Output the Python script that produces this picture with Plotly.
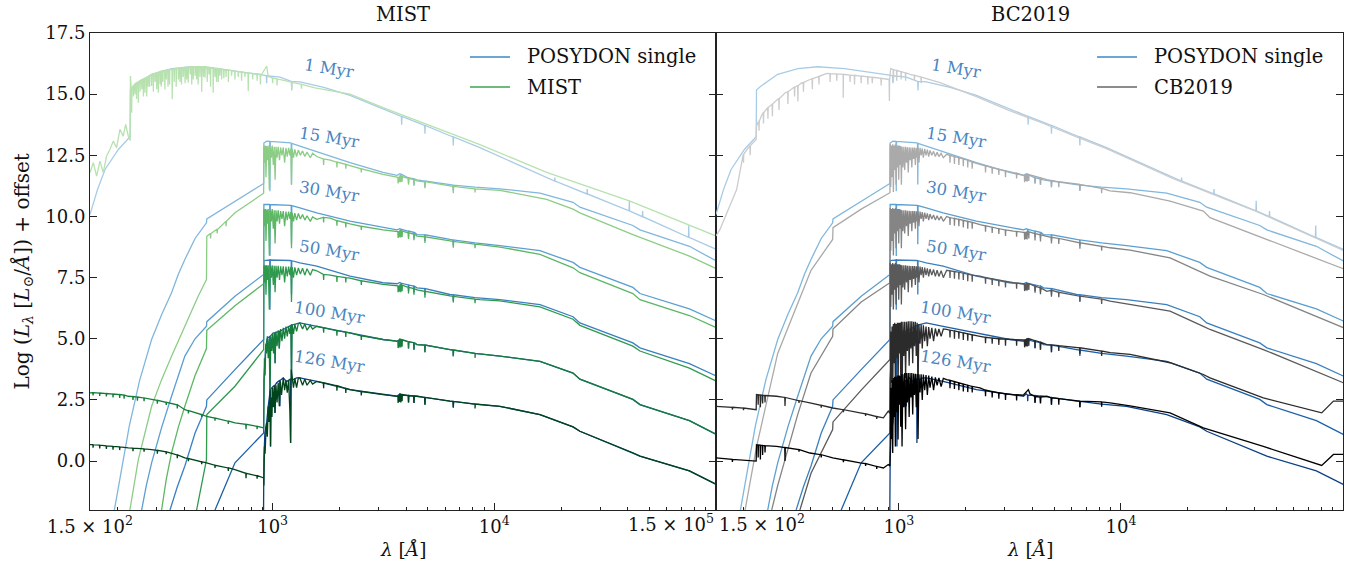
import numpy as np
import plotly.graph_objects as go

# Spectra: [log10(wavelength / Angstrom), log L_lambda + offset]
# Line lists: [log10(wavelength / Angstrom), continuum level, line tip level]

# ---------------- POSYDON single-star populations
posydon_1 = [[2.176,10.08],[2.21,11.1],[2.244,11.92],[2.304,12.74],[2.357,13.26],[2.3585,15.17],[2.379,15.33],[2.454,15.81],[2.545,16.04],[2.635,16.12],[2.755,16.04],[2.875,15.9],[2.965,15.77],[3.033,15.7],[3.123,15.5],[3.231,15.28],[3.349,14.95],[3.498,14.38],[3.651,13.85],[3.800,13.3],[3.935,12.81],[4.236,11.58],[4.612,10.22],[5.003,8.65]]
posydon_1_lines = [[2.973,15.75,15.45],[3.086,15.52,15.15],[3.582,14.09,13.75],[3.687,13.72,13.38],[3.815,13.25,12.9],[4.273,11.45,11.59],[4.419,10.92,11.12],[4.609,10.23,10.64],[4.669,9.99,10.22],[4.877,9.15,9.63]]

posydon_15 = [[2.286,-2.0],[2.353,1.42],[2.40,3.3],[2.454,4.97],[2.50,6.0],[2.544,6.88],[2.575,7.65],[2.604,8.24],[2.65,9.1],[2.7015,9.74],[2.703,9.9],[2.830,10.62],[2.9595,11.35],[2.9605,13.0],[2.973,13.08],[3.081,13.01],[3.123,12.88],[3.199,12.65],[3.349,12.2],[3.498,11.8],[3.561,11.68],[3.574,11.75],[3.651,11.5],[3.800,11.3],[3.913,11.2],[4.025,11.13],[4.206,10.95],[4.355,10.58],[4.386,10.38],[4.625,9.63],[4.657,9.45],[4.880,8.78],[5.003,8.17]]
posydon_15_lines = [[2.988,13.07,11.03],[3.085,12.99,11.31],[3.58,11.72,11.45],[3.613,11.58,11.35],[3.6375,11.54,11.3],[3.687,11.45,11.2],[3.815,11.28,11.05]]

posydon_30 = [[2.409,-2.0],[2.43,-1.0],[2.454,-0.07],[2.50,1.4],[2.544,2.65],[2.575,3.55],[2.604,4.29],[2.65,5.0],[2.7015,5.51],[2.703,5.7],[2.830,6.74],[2.9595,7.63],[2.9605,10.49],[3.081,10.45],[3.123,10.35],[3.199,10.15],[3.349,9.81],[3.498,9.54],[3.561,9.45],[3.574,9.5],[3.651,9.26],[3.800,9.06],[3.913,8.92],[4.025,8.81],[4.206,8.6],[4.355,8.12],[4.386,7.92],[4.625,7.1],[4.657,6.85],[4.880,6.22],[5.003,5.72]]
posydon_30_lines = [[2.988,10.49,8.38],[3.085,10.44,8.86],[3.58,9.47,9.22],[3.613,9.4,9.15],[3.6375,9.35,9.1],[3.687,9.25,9.0],[3.815,9.04,8.8]]

posydon_50 = [[2.537,-2.0],[2.57,-1.05],[2.604,-0.2],[2.65,1.15],[2.7015,2.24],[2.703,2.5],[2.830,3.74],[2.9595,4.97],[2.9605,8.2],[3.081,8.2],[3.123,8.1],[3.199,7.97],[3.349,7.56],[3.498,7.29],[3.561,7.25],[3.574,7.3],[3.651,7.08],[3.800,6.81],[3.913,6.68],[4.025,6.6],[4.206,6.4],[4.355,5.9],[4.386,5.65],[4.625,4.83],[4.657,4.63],[4.880,3.98],[5.003,3.47]]
posydon_50_lines = [[2.988,8.22,6.19],[3.085,8.19,6.81],[3.58,7.27,7.02],[3.613,7.2,6.95],[3.6375,7.15,6.9],[3.687,7.05,6.8],[3.815,6.8,6.55]]

posydon_100 = [[2.740,-2.0],[2.830,-0.07],[2.9595,1.15],[2.9605,3.3],[2.968,4.6],[2.975,5.0],[3.003,5.24],[3.048,5.38],[3.093,5.58],[3.123,5.65],[3.199,5.51],[3.349,5.24],[3.498,4.97],[3.561,4.9],[3.574,4.98],[3.651,4.76],[3.800,4.56],[3.913,4.4],[4.025,4.29],[4.206,4.08],[4.355,3.6],[4.386,3.35],[4.625,2.52],[4.657,2.31],[4.880,1.65],[5.003,1.08]]
posydon_100_lines = [[2.988,5.1,2.92],[3.011,5.25,4.0],[3.03,5.3,4.6],[3.085,5.56,3.33],[3.58,4.95,4.7],[3.613,4.88,4.6],[3.6375,4.84,4.55],[3.687,4.74,4.45],[3.815,4.54,4.3]]

posydon_126 = [[2.959,-2.0],[2.9605,0.06],[2.965,1.16],[2.973,1.57],[2.98,2.24],[2.988,2.92],[3.003,3.06],[3.018,3.2],[3.048,3.4],[3.063,3.25],[3.093,3.33],[3.108,3.40],[3.123,3.40],[3.199,3.26],[3.349,2.92],[3.498,2.72],[3.561,2.65],[3.574,2.75],[3.651,2.65],[3.800,2.45],[3.913,2.33],[4.025,2.24],[4.206,1.9],[4.355,1.4],[4.386,1.22],[4.625,0.34],[4.657,0.2],[4.880,-0.4],[5.003,-0.96]]
posydon_126_lines = [[2.991,2.95,0.6],[3.010,3.1,1.97],[3.033,3.3,2.24],[3.081,3.35,0.74],[3.58,2.7,2.45],[3.613,2.68,2.4],[3.6375,2.66,2.38],[3.687,2.6,2.3],[3.815,2.44,2.2]]

# ---------------- MIST
mist_1 = [[2.176,11.79],[2.191,12.2],[2.206,11.65],[2.221,12.26],[2.236,11.79],[2.251,12.47],[2.266,12.74],[2.281,13.08],[2.296,12.81],[2.311,13.56],[2.326,13.28],[2.337,13.76],[2.349,13.28],[2.357,13.1],[2.3585,15.74],[2.362,15.2],
          [2.40,15.55],[2.45,15.8],[2.50,15.95],[2.55,16.02],[2.60,16.08],[2.65,16.12],[2.70,16.12],[2.75,16.05],[2.80,15.98],[2.85,15.92],[2.90,15.86],[2.95,15.8],[2.973,16.15],[2.980,15.72],[3.055,15.55],[3.093,15.47],[3.191,15.26],[3.349,15.0],[3.498,14.45],[3.935,12.94],[4.236,11.8],[4.612,10.63],[5.003,9.19]]
mist_1_lines = [[2.364,15.25,14.24],[2.372,15.35,14.9],[2.379,15.42,15.0],[2.386,15.47,14.8],[2.394,15.5,14.65],[2.402,15.56,15.1],[2.41,15.6,15.2],[2.417,15.63,14.9],[2.424,15.66,15.06],[2.432,15.7,14.9],[2.438,15.72,15.3],[2.445,15.76,15.3],[2.454,15.8,15.33],[2.462,15.83,15.1],[2.47,15.85,15.5],[2.477,15.87,15.2],[2.484,15.89,15.06],[2.492,15.92,15.4],[2.498,15.94,15.3],[2.505,15.95,15.5],[2.514,15.97,15.19],[2.52,15.98,15.6],[2.528,15.99,15.3],[2.535,16.0,15.4],[2.547,16.02,14.79],[2.556,16.03,15.5],[2.565,16.04,15.3],[2.575,16.05,15.6],[2.582,16.06,15.5],[2.589,16.07,15.4],[2.597,16.08,15.7],[2.605,16.09,15.45],[2.612,16.09,15.6],[2.619,16.1,15.47],[2.628,16.11,15.8],[2.635,16.12,15.4],[2.642,16.12,15.6],[2.65,16.12,15.75],[2.657,16.12,15.6],[2.664,16.12,15.4],[2.672,16.12,15.7],[2.68,16.12,15.1],[2.688,16.12,15.7],[2.695,16.12,15.67],[2.705,16.11,15.5],[2.713,16.1,15.8],[2.72,16.09,15.3],[2.732,16.08,15.06],[2.74,16.06,15.7],[2.747,16.05,15.5],[2.755,16.04,15.5],[2.762,16.03,15.75],[2.770,16.02,15.6],[2.78,16.0,15.65],[2.79,15.99,15.7],[2.80,15.98,15.5],[2.815,15.96,15.75],[2.83,15.94,15.6],[2.845,15.92,15.7],[2.86,15.9,15.55],[2.875,15.88,15.7],[2.890,15.87,15.12],[2.91,15.85,15.6],[2.93,15.83,15.55],[2.945,15.81,15.4],[3.0,15.66,15.45],[3.02,15.62,15.35],[3.086,15.49,15.2],[3.13,15.4,15.22]]

mist_15 = [[2.356,-2.0],[2.394,0.06],[2.454,2.24],[2.50,3.35],[2.544,4.29],[2.604,5.51],[2.664,6.74],[2.7015,7.42],[2.703,9.19],[2.755,9.5],[2.830,10.15],[2.9595,10.95],
           [2.9605,12.9],[2.964,12.2],[2.967,12.9],[2.970,11.6],[2.973,12.88],[2.977,12.3],[2.980,12.9],[2.985,11.1],[2.990,12.85],[2.994,12.4],[2.998,12.9],[3.003,12.1],[3.007,12.85],[3.011,11.5],[3.015,12.85],[3.020,12.4],[3.025,12.85],[3.031,12.3],[3.036,12.82],[3.042,12.5],[3.048,12.82],[3.054,12.2],[3.060,12.8],[3.066,12.45],[3.072,12.8],[3.078,12.5],[3.082,12.78],[3.085,11.3],[3.088,12.76],[3.094,12.4],[3.100,12.74],[3.108,12.45],[3.116,12.72],[3.125,12.5],[3.135,12.68],[3.145,12.45],[3.155,12.63],[3.17,12.4],[3.18,12.58],[3.199,12.45],
           [3.26,12.3],[3.349,12.08],[3.498,11.72],[3.561,11.6],[3.574,11.68],[3.651,11.45],[3.800,11.25],[3.935,11.12],[4.025,11.07],[4.236,10.7],[4.355,10.3],[4.386,10.15],[4.625,9.26],[4.880,8.38],[5.003,7.86]]
mist_15_lines = [[2.72,9.3,9.1],[2.75,9.48,9.3],[2.79,9.8,9.6],[3.23,12.35,12.1],[3.29,12.22,12.0],[3.33,12.13,11.95],[3.40,11.95,11.8],[3.566,11.6,11.35],[3.571,11.62,11.4],[3.578,11.65,11.4],[3.584,11.63,11.42],[3.613,11.56,11.3],[3.6375,11.51,11.25],[3.687,11.42,11.15],[3.815,11.23,10.95],[3.913,11.13,10.98]]

mist_30 = [[2.499,-2.0],[2.52,-0.75],[2.544,0.34],[2.575,1.4],[2.604,2.24],[2.65,3.5],[2.7015,4.6],[2.703,5.35],[2.830,6.35],[2.9595,7.25],
           [2.9605,10.3],[2.964,9.6],[2.967,10.3],[2.970,9.0],[2.973,10.28],[2.977,9.7],[2.980,10.3],[2.985,8.4],[2.990,10.25],[2.994,9.8],[2.998,10.3],[3.003,9.5],[3.007,10.25],[3.011,8.9],[3.015,10.25],[3.020,9.8],[3.025,10.25],[3.031,9.7],[3.036,10.22],[3.042,9.9],[3.048,10.22],[3.054,9.6],[3.060,10.2],[3.066,9.85],[3.072,10.2],[3.078,9.9],[3.082,10.18],[3.085,8.7],[3.088,10.16],[3.094,9.8],[3.100,10.14],[3.108,9.85],[3.116,10.12],[3.125,9.9],[3.135,10.08],[3.145,9.85],[3.155,10.03],[3.17,9.8],[3.18,9.98],[3.199,9.88],
           [3.26,9.93],[3.349,9.7],[3.498,9.45],[3.561,9.38],[3.574,9.42],[3.651,9.2],[3.800,9.0],[3.935,8.85],[4.025,8.75],[4.206,8.45],[4.355,7.9],[4.386,7.7],[4.625,6.85],[4.657,6.6],[4.880,5.95],[5.003,5.45]]
mist_30_lines = [[3.23,9.96,9.75],[3.29,9.83,9.62],[3.33,9.74,9.55],[3.40,9.6,9.45],[3.566,9.38,9.12],[3.571,9.4,9.15],[3.578,9.41,9.14],[3.584,9.4,9.16],[3.613,9.33,9.08],[3.6375,9.28,9.03],[3.687,9.17,8.92],[3.815,8.98,8.72],[3.913,8.87,8.7]]

mist_50 = [[2.657,-2.0],[2.7015,0.06],[2.703,1.9],[2.830,3.06],[2.9595,4.56],
           [2.9605,8.0],[2.964,7.3],[2.967,8.0],[2.970,6.8],[2.973,8.0],[2.977,7.4],[2.980,8.0],[2.985,6.2],[2.990,7.98],[2.994,7.5],[2.998,8.0],[3.003,7.2],[3.007,7.98],[3.011,6.9],[3.015,7.98],[3.020,7.5],[3.025,7.98],[3.031,7.4],[3.036,7.96],[3.042,7.6],[3.048,7.96],[3.054,7.3],[3.060,7.95],[3.066,7.55],[3.072,7.95],[3.078,7.6],[3.082,7.94],[3.085,6.5],[3.088,7.93],[3.094,7.5],[3.100,7.92],[3.108,7.6],[3.116,7.9],[3.125,7.65],[3.135,7.88],[3.145,7.6],[3.155,7.86],[3.17,7.6],[3.18,7.83],[3.199,7.78],
           [3.26,7.6],[3.349,7.48],[3.498,7.22],[3.561,7.16],[3.574,7.22],[3.651,7.0],[3.800,6.75],[3.935,6.6],[4.025,6.55],[4.206,6.3],[4.355,5.8],[4.386,5.55],[4.625,4.7],[4.657,4.5],[4.880,3.8],[5.003,3.26]]
mist_50_lines = [[3.23,7.63,7.4],[3.29,7.55,7.32],[3.33,7.5,7.3],[3.40,7.37,7.2],[3.566,7.16,6.9],[3.571,7.18,6.92],[3.578,7.2,6.9],[3.584,7.19,6.94],[3.613,7.1,6.85],[3.6375,7.05,6.8],[3.687,6.94,6.68],[3.815,6.73,6.48],[3.913,6.62,6.45]]

mist_100 = [[2.176,2.79],[2.349,2.65],[2.454,2.52],[2.604,2.1],[2.702,1.83],[2.830,1.56],[2.9595,1.36],
            [2.9605,3.0],[2.963,4.2],[2.966,3.5],[2.969,4.8],[2.972,4.4],[2.976,5.1],[2.980,4.2],[2.984,5.0],[2.988,2.9],[2.992,5.1],[2.996,4.5],[3.000,5.2],[3.004,4.4],[3.008,5.25],[3.011,4.0],[3.015,5.3],[3.020,4.7],[3.025,5.35],[3.030,4.6],[3.036,5.4],[3.042,4.9],[3.048,5.45],[3.054,5.0],[3.060,5.5],[3.066,5.1],[3.072,5.5],[3.078,5.2],[3.082,5.55],[3.085,3.33],[3.088,5.58],[3.094,5.2],[3.100,5.6],[3.108,5.3],[3.116,5.62],[3.123,5.65],[3.135,5.4],[3.145,5.6],[3.155,5.35],[3.17,5.55],[3.18,5.4],[3.199,5.51],
            [3.349,5.24],[3.498,4.97],[3.561,4.9],[3.574,4.98],[3.651,4.76],[3.800,4.56],[3.913,4.4],[4.025,4.29],[4.206,4.08],[4.355,3.6],[4.386,3.35],[4.625,2.52],[4.657,2.31],[4.880,1.65],[5.003,1.08]]
mist_100_lines = [[2.19,2.8,2.68],[2.22,2.78,2.66],[2.25,2.76,2.64],[2.28,2.74,2.6],[2.31,2.72,2.58],[2.33,2.7,2.55],[2.37,2.64,2.5],[2.39,2.62,2.47],[2.42,2.58,2.45],[2.48,2.48,2.35],[2.52,2.4,2.3],[2.57,2.3,2.15],[2.62,2.06,1.95],[2.68,1.9,1.8],[2.74,1.76,1.65],[2.80,1.63,1.52],[2.88,1.5,1.3],[2.93,1.42,1.3],
                   [3.23,5.45,5.25],[3.29,5.33,5.12],[3.33,5.27,5.07],[3.40,5.12,4.95],[3.566,4.9,4.62],[3.571,4.95,4.65],[3.578,4.97,4.64],[3.584,4.96,4.68],[3.613,4.88,4.6],[3.6375,4.84,4.55],[3.687,4.74,4.45],[3.815,4.54,4.28],[3.913,4.4,4.22]]

mist_126 = [[2.176,0.67],[2.349,0.54],[2.454,0.47],[2.604,0.13],[2.702,-0.07],[2.830,-0.35],[2.9595,-0.69],
            [2.9605,-1.0],[2.963,0.6],[2.966,0.3],[2.970,1.3],[2.973,1.57],[2.976,1.0],[2.980,2.24],[2.984,1.6],[2.988,2.92],[2.990,0.6],[2.993,2.6],[2.997,1.8],[3.000,3.0],[3.004,2.2],[3.008,3.06],[3.011,1.97],[3.015,3.1],[3.020,2.4],[3.025,3.2],[3.030,2.24],[3.035,3.25],[3.040,2.7],[3.048,3.4],[3.054,2.9],[3.060,3.3],[3.066,2.8],[3.072,3.3],[3.078,2.0],[3.081,0.74],[3.084,3.74],[3.088,3.3],[3.094,3.0],[3.100,3.38],[3.108,3.0],[3.116,3.4],[3.123,3.4],[3.135,3.1],[3.145,3.35],[3.155,3.1],[3.17,3.3],[3.18,3.15],[3.199,3.26],
            [3.349,2.92],[3.498,2.72],[3.561,2.65],[3.574,2.75],[3.651,2.65],[3.800,2.45],[3.913,2.33],[4.025,2.24],[4.206,1.9],[4.355,1.4],[4.386,1.22],[4.625,0.34],[4.657,0.2],[4.880,-0.4],[5.003,-0.96]]
mist_126_lines = [[2.19,0.67,0.55],[2.22,0.65,0.52],[2.25,0.62,0.5],[2.28,0.6,0.46],[2.31,0.58,0.45],[2.37,0.53,0.4],[2.42,0.5,0.38],[2.48,0.44,0.3],[2.52,0.38,0.28],[2.57,0.25,0.12],[2.62,0.1,0.0],[2.68,-0.03,-0.13],[2.74,-0.17,-0.28],[2.80,-0.28,-0.4],[2.88,-0.5,-0.7],[2.93,-0.6,-0.72],
                   [3.23,3.2,2.98],[3.29,3.08,2.88],[3.33,2.97,2.78],[3.40,2.84,2.68],[3.566,2.65,2.38],[3.571,2.7,2.42],[3.578,2.73,2.4],[3.584,2.72,2.45],[3.613,2.68,2.4],[3.6375,2.66,2.38],[3.687,2.6,2.3],[3.815,2.44,2.18],[3.913,2.33,2.15]]

# ---------------- CB2019
cb_1 = [[2.176,9.2],[2.194,9.47],[2.269,11.1],[2.357,13.15],[2.3585,13.69],[2.38,14.1],[2.40,14.35],[2.424,14.55],[2.449,14.75],[2.487,15.05],[2.524,15.26],[2.56,15.45],[2.599,15.6],[2.637,15.72],[2.675,15.85],[2.749,15.81],[2.825,15.74],[2.9,15.67],[2.955,15.6],[2.963,16.05],[2.972,16.0],[3.05,15.81],[3.185,15.47],[3.349,14.9],[3.498,14.33],[3.651,13.8],[3.800,13.25],[3.935,12.77],[4.236,11.55],[4.612,10.2],[5.003,8.6]]
cb_1_lines = [[2.30,12.55,12.2],[2.33,12.9,12.5],[2.37,13.9,13.5],[2.39,14.25,13.8],[2.41,14.45,14.0],[2.43,14.6,14.1],[2.46,14.82,14.35],[2.50,15.1,14.6],[2.53,15.28,14.9],[2.545,15.35,14.7],[2.57,15.48,15.1],[2.61,15.63,15.2],[2.64,15.73,15.4],[2.69,15.84,15.5],[2.72,15.83,15.55],[2.749,15.81,14.85],[2.78,15.78,15.5],[2.80,15.77,15.4],[2.83,15.74,15.45],[2.86,15.71,15.4],[2.88,15.69,15.45],[2.92,15.65,15.35],[2.957,15.6,14.72],[2.975,16.0,15.5],[2.99,15.97,15.55],[3.01,15.92,15.6],[3.03,15.87,15.55],[3.07,15.77,15.55],[3.10,15.7,15.45]]

cb_15 = [[2.307,-2.0],[2.359,0.6],[2.454,4.4],[2.544,6.45],[2.604,7.8],[2.7015,9.06],[2.703,9.54],[2.830,10.3],[2.9595,10.97],
         [2.9605,12.95],[2.963,11.2],[2.966,12.9],[2.969,11.6],[2.972,12.95],[2.975,11.0],[2.978,12.9],[2.981,11.9],[2.984,12.95],[2.987,11.3],[2.990,12.9],[2.993,12.0],[2.996,12.9],[2.999,11.5],[3.002,12.9],[3.005,12.1],[3.008,12.88],[3.011,11.3],[3.014,12.85],[3.018,12.0],[3.022,12.85],[3.026,11.9],[3.030,12.85],[3.034,12.2],[3.038,12.83],[3.042,11.8],[3.046,12.83],[3.050,12.3],[3.054,12.82],[3.058,12.0],[3.062,12.82],[3.066,12.35],[3.070,12.82],[3.074,12.1],[3.078,12.81],[3.082,12.4],[3.086,12.81],[3.090,12.2],[3.095,12.81],[3.100,12.5],[3.105,12.78],[3.110,12.4],[3.116,12.76],[3.122,12.5],[3.128,12.73],[3.134,12.45],[3.140,12.7],[3.148,12.5],[3.156,12.66],[3.164,12.45],[3.172,12.62],[3.18,12.45],[3.19,12.58],[3.2,12.4],[3.215,12.54],
         [3.365,12.13],[3.515,11.79],[3.561,11.68],[3.583,11.72],[3.666,11.51],[3.816,11.31],[3.951,11.05],[4.041,10.97],[4.221,10.63],[4.371,10.22],[4.401,9.95],[4.641,9.11],[5.002,7.86]]
cb_15_lines = [[3.23,12.5,12.2],[3.25,12.45,12.15],[3.27,12.4,12.1],[3.29,12.35,12.05],[3.31,12.3,12.0],[3.33,12.22,11.95],[3.39,12.07,11.8],[3.42,12.0,11.75],[3.45,11.93,11.7],[3.48,11.87,11.6],[3.53,11.77,11.55],[3.566,11.68,11.4],[3.571,11.7,11.45],[3.577,11.72,11.42],[3.585,11.71,11.45],[3.613,11.64,11.35],[3.6375,11.58,11.3],[3.687,11.47,11.2],[3.72,11.42,11.2],[3.815,11.31,11.05],[3.913,11.15,10.95]]

cb_30 = [[2.427,-2.0],[2.454,-1.0],[2.544,1.9],[2.604,3.6],[2.7015,5.1],[2.703,5.4],[2.830,6.5],[2.9595,7.29],
         [2.9605,10.35],[2.963,8.6],[2.966,10.3],[2.969,9.0],[2.972,10.35],[2.975,8.4],[2.978,10.3],[2.981,9.3],[2.984,10.35],[2.987,8.7],[2.990,10.3],[2.993,9.4],[2.996,10.3],[2.999,8.9],[3.002,10.3],[3.005,9.5],[3.008,10.28],[3.011,8.7],[3.014,10.25],[3.018,9.4],[3.022,10.25],[3.026,9.3],[3.030,10.25],[3.034,9.6],[3.038,10.23],[3.042,9.2],[3.046,10.23],[3.050,9.7],[3.054,10.22],[3.058,9.4],[3.062,10.22],[3.066,9.75],[3.070,10.22],[3.074,9.5],[3.078,10.21],[3.082,9.8],[3.086,10.21],[3.090,9.6],[3.095,10.2],[3.100,9.9],[3.105,10.18],[3.110,9.8],[3.116,10.16],[3.122,9.9],[3.128,10.13],[3.134,9.85],[3.140,10.1],[3.148,9.9],[3.156,10.06],[3.164,9.85],[3.172,10.03],[3.18,9.85],[3.19,10.0],[3.2,9.8],[3.215,10.0],
         [3.365,9.67],[3.515,9.4],[3.561,9.35],[3.583,9.38],[3.666,9.19],[3.816,8.92],[3.951,8.72],[4.041,8.62],[4.221,8.31],[4.371,7.7],[4.401,7.56],[4.641,6.81],[5.002,5.45]]
cb_30_lines = [[3.23,9.95,9.65],[3.25,9.92,9.62],[3.27,9.88,9.6],[3.29,9.84,9.55],[3.31,9.8,9.5],[3.33,9.76,9.5],[3.39,9.62,9.38],[3.42,9.56,9.33],[3.45,9.5,9.28],[3.48,9.45,9.2],[3.53,9.39,9.17],[3.566,9.35,9.05],[3.571,9.36,9.08],[3.577,9.37,9.06],[3.585,9.37,9.1],[3.613,9.3,9.02],[3.6375,9.25,8.98],[3.687,9.15,8.9],[3.72,9.1,8.88],[3.815,8.92,8.68],[3.913,8.78,8.6]]

cb_50 = [[2.554,-2.0],[2.604,-0.5],[2.7015,1.29],[2.703,1.6],[2.830,2.9],[2.9595,4.15],
         [2.9605,8.1],[2.963,6.3],[2.966,8.05],[2.969,6.8],[2.972,8.1],[2.975,6.2],[2.978,8.05],[2.981,7.0],[2.984,8.1],[2.987,6.4],[2.990,8.05],[2.993,7.1],[2.996,8.05],[2.999,6.6],[3.002,8.05],[3.005,7.2],[3.008,8.03],[3.011,6.4],[3.014,8.0],[3.018,7.1],[3.022,8.0],[3.026,7.0],[3.030,8.0],[3.034,7.3],[3.038,7.98],[3.042,6.9],[3.046,7.98],[3.050,7.4],[3.054,7.97],[3.058,7.1],[3.062,7.97],[3.066,7.45],[3.070,7.97],[3.074,7.2],[3.078,7.96],[3.082,7.5],[3.086,7.96],[3.090,7.3],[3.095,7.95],[3.100,7.6],[3.105,7.93],[3.110,7.5],[3.116,7.91],[3.122,7.6],[3.128,7.88],[3.134,7.55],[3.140,7.85],[3.148,7.6],[3.156,7.83],[3.164,7.55],[3.172,7.8],[3.18,7.55],[3.19,7.78],[3.2,7.5],[3.215,7.8],
         [3.365,7.56],[3.515,7.29],[3.561,7.24],[3.583,7.25],[3.666,6.94],[3.816,6.74],[3.951,6.54],[4.221,6.13],[4.371,5.51],[4.401,5.38],[4.641,4.56],[5.002,3.2]]
cb_50_lines = [[3.23,7.78,7.48],[3.25,7.75,7.45],[3.27,7.72,7.42],[3.29,7.68,7.4],[3.31,7.64,7.35],[3.33,7.6,7.33],[3.39,7.5,7.25],[3.42,7.45,7.2],[3.45,7.4,7.15],[3.48,7.35,7.1],[3.53,7.28,7.05],[3.566,7.24,6.95],[3.571,7.25,6.98],[3.577,7.26,6.96],[3.585,7.25,7.0],[3.613,7.15,6.88],[3.6375,7.08,6.82],[3.687,6.98,6.72],[3.72,6.9,6.7],[3.815,6.74,6.5],[3.913,6.62,6.42]]

cb_100 = [[2.176,2.24],[2.357,2.1],[2.3585,2.72],[2.449,2.65],[2.599,2.38],[2.702,2.17],[2.825,1.97],[2.93,1.77],[2.952,2.04],[2.9595,1.95],
          [2.9605,4.0],[2.963,5.3],[2.966,3.2],[2.969,5.5],[2.972,2.6],[2.975,5.6],[2.978,4.0],[2.981,5.65],[2.984,3.0],[2.987,5.6],[2.990,4.2],[2.993,5.65],[2.996,2.8],[2.999,5.65],[3.002,4.4],[3.005,5.65],[3.008,3.5],[3.011,5.7],[3.014,2.6],[3.018,5.7],[3.022,4.3],[3.026,5.7],[3.030,3.4],[3.034,5.7],[3.038,4.5],[3.042,5.72],[3.046,3.9],[3.050,5.72],[3.054,4.6],[3.058,5.72],[3.062,4.0],[3.066,5.7],[3.070,4.7],[3.074,5.7],[3.078,4.3],[3.082,5.65],[3.086,3.0],[3.090,5.6],[3.095,4.8],[3.100,5.58],[3.105,4.6],[3.110,5.55],[3.116,4.9],[3.122,5.5],[3.128,4.7],[3.134,5.48],[3.140,5.0],[3.148,5.45],[3.156,4.9],[3.164,5.42],[3.172,5.1],[3.18,5.4],[3.19,5.1],[3.2,5.4],[3.215,5.38],
          [3.365,5.1],[3.515,4.97],[3.561,4.95],[3.583,5.0],[3.666,4.76],[3.816,4.63],[3.951,4.43],[4.041,4.36],[4.221,4.02],[4.371,3.54],[4.401,3.4],[4.641,2.58],[4.904,1.97],[4.957,2.45],[5.002,2.45]]
cb_100_lines = [[2.25,2.2,2.1],[2.30,2.17,2.08],[2.366,2.71,2.3],[2.376,2.7,2.2],[2.386,2.69,2.35],[2.397,2.68,2.4],[2.487,2.6,2.25],[2.55,2.47,2.38],[2.65,2.28,2.18],[2.75,2.1,2.0],[2.85,1.93,1.85],[2.90,1.82,1.72],
                [3.23,5.35,5.05],[3.25,5.32,5.0],[3.27,5.28,5.0],[3.29,5.24,4.95],[3.31,5.2,4.92],[3.33,5.16,4.9],[3.39,5.06,4.82],[3.42,5.03,4.8],[3.45,5.0,4.75],[3.48,4.99,4.72],[3.53,4.96,4.72],[3.566,4.95,4.65],[3.571,4.97,4.7],[3.577,4.99,4.68],[3.585,5.0,4.72],[3.613,4.92,4.62],[3.6375,4.86,4.55],[3.687,4.75,4.45],[3.72,4.72,4.5],[3.815,4.63,4.38],[3.913,4.5,4.3]]

cb_126 = [[2.176,0.13],[2.357,0.0],[2.3585,0.67],[2.449,0.6],[2.599,0.33],[2.702,0.13],[2.825,-0.07],[2.93,-0.28],[2.952,-0.14],[2.9595,-0.2],
          [2.9605,1.5],[2.963,3.0],[2.966,0.9],[2.969,3.3],[2.972,0.33],[2.975,3.4],[2.978,1.8],[2.981,3.45],[2.984,0.6],[2.987,3.45],[2.990,2.0],[2.993,3.5],[2.996,0.88],[2.999,3.5],[3.002,2.3],[3.005,3.5],[3.008,1.4],[3.011,3.55],[3.014,0.6],[3.018,3.55],[3.022,2.2],[3.026,3.6],[3.030,1.3],[3.034,3.6],[3.038,2.4],[3.042,3.6],[3.046,1.8],[3.050,3.6],[3.054,2.6],[3.058,3.6],[3.062,1.9],[3.066,3.58],[3.070,2.7],[3.074,3.57],[3.078,2.2],[3.082,3.56],[3.086,0.9],[3.090,3.55],[3.095,2.8],[3.100,3.55],[3.105,2.5],[3.110,3.54],[3.116,2.9],[3.122,3.52],[3.128,2.7],[3.134,3.5],[3.140,3.0],[3.148,3.45],[3.156,2.9],[3.164,3.42],[3.172,3.1],[3.18,3.4],[3.19,3.05],[3.2,3.38],[3.215,3.33],
          [3.365,2.99],[3.515,2.72],[3.561,2.7],[3.583,2.92],[3.59,2.75],[3.666,2.65],[3.816,2.45],[3.951,2.38],[4.041,2.26],[4.221,1.97],[4.371,1.36],[4.641,0.6],[4.904,-0.18],[4.957,0.27],[5.002,0.27]]
cb_126_lines = [[2.25,0.07,-0.03],[2.366,0.66,0.15],[2.376,0.65,0.06],[2.386,0.64,0.25],[2.397,0.63,0.35],[2.487,0.55,0.0],[2.55,0.47,0.38],[2.65,0.26,0.15],[2.75,0.05,-0.05],[2.85,-0.1,-0.2],[2.90,-0.22,-0.32],
                [3.23,3.3,2.98],[3.25,3.25,2.95],[3.27,3.2,2.9],[3.29,3.15,2.85],[3.31,3.1,2.82],[3.33,3.05,2.8],[3.39,2.9,2.65],[3.42,2.84,2.6],[3.45,2.79,2.55],[3.48,2.75,2.5],[3.53,2.71,2.48],[3.613,2.64,2.38],[3.6375,2.62,2.35],[3.687,2.58,2.3],[3.72,2.55,2.3],[3.815,2.45,2.2],[3.913,2.42,2.22]]

AGE_LABELS = ["1 Myr", "15 Myr", "30 Myr", "50 Myr", "100 Myr", "126 Myr"]
AGE_LABEL_Y = [16.05, 13.22, 11.04, 8.6, 6.07, 4.07]
AGE_LABEL_WAVE = 1800

POSYDON = [(posydon_1, posydon_1_lines), (posydon_15, posydon_15_lines), (posydon_30, posydon_30_lines),
           (posydon_50, posydon_50_lines), (posydon_100, posydon_100_lines), (posydon_126, posydon_126_lines)]
MIST = [(mist_1, mist_1_lines), (mist_15, mist_15_lines), (mist_30, mist_30_lines),
        (mist_50, mist_50_lines), (mist_100, mist_100_lines), (mist_126, mist_126_lines)]
CB2019 = [(cb_1, cb_1_lines), (cb_15, cb_15_lines), (cb_30, cb_30_lines),
          (cb_50, cb_50_lines), (cb_100, cb_100_lines), (cb_126, cb_126_lines)]

BLUES = ["#a9cce6", "#80b7dc", "#5b9fd0", "#3a80c1", "#1c5fa8", "#0c3e84"]
GREENS = ["#b7e2b0", "#8ccd86", "#5db765", "#2f9a4e", "#167c3a", "#00441b"]
GRAYS = ["#cccccc", "#aaaaaa", "#858585", "#5a5a5a", "#2b2b2b", "#000000"]

FONT = "DejaVu Serif"
W, H = 1364, 562
PX_L, PX_M, PX_R = 90, 716, 1343
PX_T, PX_B = 33, 510


def spectrum(knots, lines, half_width=0.0012):
    """Merge continuum knots with narrow line profiles, sorted in wavelength."""
    pts = [tuple(p) for p in knots]
    for lw, base, tip in lines:
        pts += [(lw - half_width, base), (lw, tip), (lw + half_width, base)]
    pts.sort(key=lambda p: p[0])
    lw, y = zip(*pts)
    return 10 ** np.asarray(lw), np.asarray(y)


fig = go.Figure()


def add_set(models, colors, xa, ya):
    for (knots, lines), col in zip(models, colors):
        x, y = spectrum(knots, lines)
        fig.add_trace(go.Scatter(x=x, y=y, mode="lines", xaxis=xa, yaxis=ya,
                                 line=dict(color=col, width=1.3),
                                 showlegend=False, hoverinfo="skip"))


add_set(POSYDON, BLUES, "x", "y")
add_set(MIST, GREENS, "x", "y")
add_set(POSYDON, BLUES, "x2", "y2")
add_set(CB2019, GRAYS, "x2", "y2")

minor_vals = [m * 10 ** e for e in (2, 3, 4) for m in range(2, 10)]
xr = [np.log10(150), 5.0]

axis_common = dict(type="log", range=xr, showline=True, mirror=True, linecolor="#222", linewidth=1,
                   ticks="inside", ticklen=7, tickwidth=1, tickcolor="#222", showgrid=False, zeroline=False,
                   automargin=False, tickfont=dict(family=FONT, size=18, color="#111"),
                   minor=dict(ticks="inside", ticklen=3.5, tickwidth=0.8, tickcolor="#222",
                              tickvals=minor_vals, showgrid=False))
yaxis_common = dict(domain=[1 - PX_B / H, 1 - PX_T / H], range=[-2, 17.5],
                    showline=True, mirror="ticks", linecolor="#222", linewidth=1,
                    ticks="inside", ticklen=7, tickwidth=1, tickcolor="#222", showgrid=False, zeroline=False,
                    automargin=False, tickmode="array", tickvals=[0, 2.5, 5, 7.5, 10, 12.5, 15, 17.5],
                    tickfont=dict(family=FONT, size=18, color="#111"))

fig.update_layout(
    width=W, height=H, margin=dict(l=0, r=0, t=0, b=0, autoexpand=False),
    paper_bgcolor="white", plot_bgcolor="white", showlegend=False,
    font=dict(family=FONT, size=18, color="#111"),
    xaxis=dict(axis_common, domain=[PX_L / W, PX_M / W], anchor="y",
               tickmode="array", tickvals=[150, 1000, 10000],
               ticktext=["1.5 × 10<sup>2</sup>", "10<sup>3</sup>", "10<sup>4</sup>"]),
    xaxis2=dict(axis_common, domain=[PX_M / W, PX_R / W], anchor="y2",
                tickmode="array", tickvals=[1000, 10000],
                ticktext=["10<sup>3</sup>", "10<sup>4</sup>"]),
    yaxis=dict(yaxis_common, anchor="x",
               ticktext=["0.0", "2.5", "5.0", "7.5", "10.0", "12.5", "15.0", "17.5"]),
    yaxis2=dict(yaxis_common, anchor="x2", matches="y", showticklabels=False),
)

ann = []
# panel titles and axis titles
for cx, title in ((403, "MIST"), (1030, "BC2019")):
    ann.append(dict(text=title, x=cx / W, y=1 - 14 / H, xref="paper", yref="paper",
                    xanchor="center", yanchor="middle",
                    showarrow=False, font=dict(family=FONT, size=19.5, color="#111")))
    ann.append(dict(text="<i>λ</i> [<i>Å</i>]", x=cx / W, y=1 - 549 / H, xref="paper", yref="paper",
                    xanchor="center", yanchor="middle",
                    showarrow=False, font=dict(family=FONT, size=18.5, color="#111")))
ann.append(dict(text="Log (<i>L</i><sub><i>λ</i></sub> [<i>L</i><sub>⊙</sub>/<i>Å</i>]) + offset",
                x=22 / W, y=1 - 271.5 / H, xref="paper", yref="paper", textangle=-90,
                xanchor="center", yanchor="middle",
                showarrow=False, font=dict(family=FONT, size=20, color="#111")))
# edge tick labels shared by the two panels
ann.append(dict(text="1.5 × 10<sup>5</sup>", x=PX_M / W, y=1 - 523 / H, xref="paper", yref="paper",
                xanchor="right", yanchor="middle", showarrow=False,
                font=dict(family=FONT, size=18, color="#111")))
ann.append(dict(text="1.5 × 10<sup>2</sup>", x=(PX_M + 1) / W, y=1 - 523 / H, xref="paper", yref="paper",
                xanchor="left", yanchor="middle", showarrow=False,
                font=dict(family=FONT, size=18, color="#111")))

# age labels
for xa, ya in (("x", "y"), ("x2", "y2")):
    for lab, yv in zip(AGE_LABELS, AGE_LABEL_Y):
        ann.append(dict(text=lab, x=np.log10(AGE_LABEL_WAVE), y=yv, xref=xa, yref=ya, textangle=9,
                        xanchor="center", yanchor="middle",
                        showarrow=False, font=dict(family=FONT, size=16.5, color="#4a84c0")))

# legends
shapes = []
legend_rows = [((470, 510, 525), [("POSYDON single", "#3f87c7"), ("MIST", "#3da34e")]),
               ((1097, 1137, 1152), [("POSYDON single", "#3f87c7"), ("CB2019", "#666666")])]
for (x0, x1, xt), rows in legend_rows:
    for (name, col), py in zip(rows, (57, 87)):
        shapes.append(dict(type="line", xref="paper", yref="paper", x0=x0 / W, x1=x1 / W,
                           y0=1 - py / H, y1=1 - py / H, line=dict(color=col, width=1.4)))
        ann.append(dict(text=name, x=xt / W, y=1 - py / H, xref="paper", yref="paper",
                        xanchor="left", yanchor="middle", showarrow=False,
                        font=dict(family=FONT, size=19.5, color="#111")))

fig.update_layout(annotations=ann, shapes=shapes)
fig.write_html("out.html")
